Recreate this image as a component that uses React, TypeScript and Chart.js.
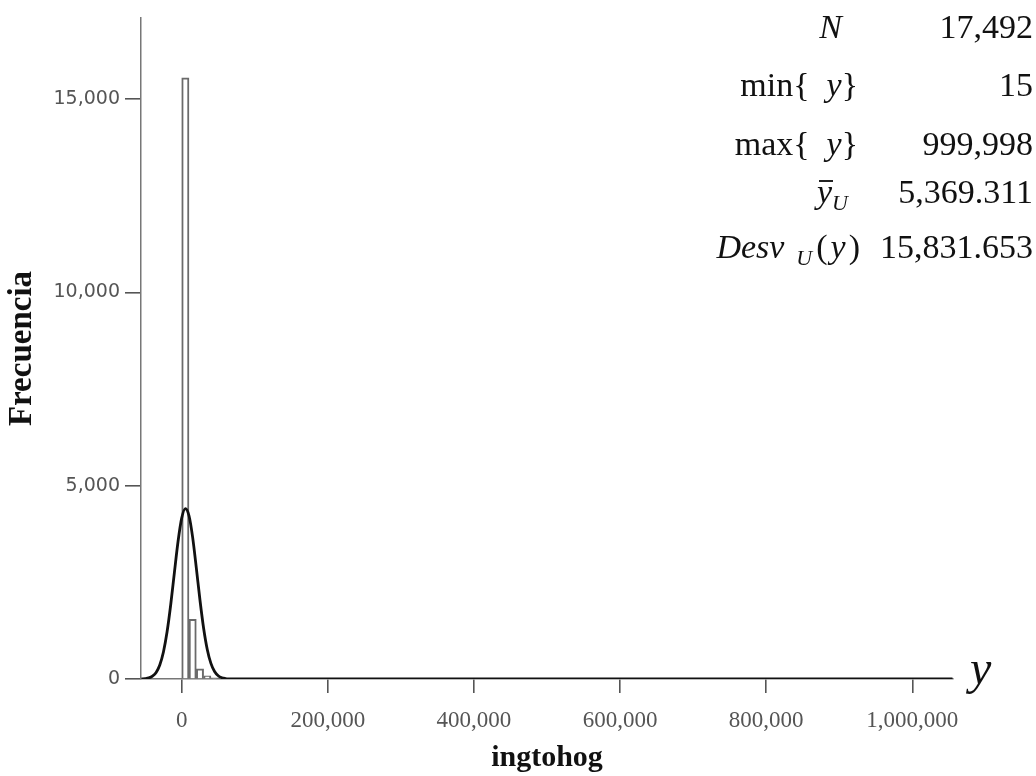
import React, { useEffect, useRef } from 'react';
import { Chart, registerables } from 'chart.js';

Chart.register(...registerables);

// Histogram bins (centre of each 10,000-wide bin) and their counts
const binCenters = [5000, 15000, 25000, 35000, 45000, 55000];
const binCounts = [15550, 1545, 260, 85, 30, 12];

// Fitted normal curve
const curveX = [
  -55000, -50000, -45000, -40000, -35000, -30000, -25000, -20000, -15000, -10000,
  -5000, 0, 5000, 10000, 15000, 20000, 25000, 30000, 35000, 40000,
  45000, 50000, 55000, 60000, 65000, 70000, 1055000,
];
const curveY = [
  3, 10, 28, 73, 171, 364, 700, 1221, 1927, 2752,
  3557, 4162, 4407, 4223, 3663, 2876, 2044, 1314, 765, 403,
  192, 83, 32, 12, 4, 1, 0,
];

const xTickValues = [0, 200000, 400000, 600000, 800000, 1000000];
const yTickValues = [0, 5000, 10000, 15000];
const xRange = [-55700, 1055700];
const yRange = [0, 17100];

const xTitle = 'ingtohog';
const yTitle = 'Frecuencia';
const statValues = ['17,492', '15', '999,998', '5,369.311', '15,831.653'];

const fmt = (v: number) => Number(v).toLocaleString('en-US');

const SERIF = '"Liberation Serif", "Times New Roman", serif';

export default function App() {
  const canvasRef = useRef<HTMLCanvasElement | null>(null);

  useEffect(() => {
    const canvas = canvasRef.current;
    if (!canvas) return;
    const chart = new Chart(canvas, {
      type: 'bar',
      data: {
        datasets: [
          {
            type: 'line',
            data: curveX.map((x, i) => ({ x, y: curveY[i] })),
            borderColor: '#111',
            borderWidth: 2.8,
            pointRadius: 0,
            cubicInterpolationMode: 'monotone',
            fill: false,
            order: 0,
          } as any,
          {
            type: 'bar',
            data: binCenters.map((x, i) => ({ x, y: binCounts[i] })),
            backgroundColor: '#ffffff',
            borderColor: '#6a6a6a',
            borderWidth: 2,
            barPercentage: 1,
            categoryPercentage: 1,
            grouped: false,
            order: 1,
          } as any,
        ],
      },
      options: {
        animation: false,
        responsive: true,
        maintainAspectRatio: false,
        layout: { padding: { left: 0, right: 83, top: 18, bottom: 0 } },
        plugins: { legend: { display: false }, tooltip: { enabled: false } },
        scales: {
          x: {
            type: 'linear',
            min: xRange[0],
            max: xRange[1],
            offset: false,
            grid: {
              display: true,
              offset: false,
              drawOnChartArea: false,
              drawTicks: true,
              tickLength: 14,
              color: '#555',
              lineWidth: 1.6,
            },
            border: { display: true, color: '#777', width: 1.5 },
            ticks: {
              color: '#555',
              font: { family: SERIF, size: 23 },
              padding: 14,
              maxRotation: 0,
              autoSkip: false,
              callback: (v: any) => fmt(v),
            },
            afterBuildTicks: (s: any) => {
              s.ticks = xTickValues.map((v) => ({ value: v }));
            },
            afterFit: (s: any) => {
              s.height = 97;
            },
            title: {
              display: true,
              text: xTitle,
              color: '#111',
              font: { family: SERIF, size: 30, weight: 'bold' },
              padding: { top: 0, bottom: 0 },
            },
          },
          y: {
            type: 'linear',
            min: yRange[0],
            max: yRange[1],
            grid: {
              display: true,
              drawOnChartArea: false,
              drawTicks: true,
              tickLength: 16,
              color: '#555',
              lineWidth: 1.6,
            },
            border: { display: true, color: '#777', width: 1.5 },
            ticks: {
              color: '#555',
              font: { family: '"DejaVu Sans", sans-serif', size: 19 },
              padding: 5,
              autoSkip: false,
              callback: (v: any) => fmt(v),
            },
            afterBuildTicks: (s: any) => {
              s.ticks = yTickValues.map((v) => ({ value: v }));
            },
            afterFit: (s: any) => {
              s.width = 141;
            },
            title: {
              display: true,
              text: yTitle,
              color: '#111',
              font: { family: SERIF, size: 33, weight: 'bold' },
              padding: { top: 3, bottom: 0 },
            },
          },
        },
      },
    });
    return () => chart.destroy();
  }, []);

  const rowCenters = [27, 85, 144, 192, 247];
  const L = 44;
  const txt: React.CSSProperties = {
    position: 'absolute',
    fontFamily: SERIF,
    fontSize: 34,
    lineHeight: `${L}px`,
    height: L,
    color: '#111',
    whiteSpace: 'nowrap',
  };
  const it: React.CSSProperties = { fontStyle: 'italic' };
  const sub: React.CSSProperties = { fontStyle: 'italic', fontSize: 22, verticalAlign: '-0.3em' };

  const labels: Array<{ right: number; node: React.ReactNode }> = [
    { right: 842, node: <span style={it}>N</span> },
    {
      right: 858,
      node: (
        <span>
          min{'{'}&nbsp;&nbsp;<span style={it}>y</span>
          {'}'}
        </span>
      ),
    },
    {
      right: 858,
      node: (
        <span>
          max{'{'}&nbsp;&nbsp;<span style={it}>y</span>
          {'}'}
        </span>
      ),
    },
    {
      right: 848,
      node: (
        <span>
          <span style={{ ...it, position: 'relative' }}>
            y
            <span
              style={{
                position: 'absolute',
                left: '0.06em',
                right: '-0.04em',
                top: '0.2em',
                borderTop: '2px solid #222',
              }}
            />
          </span>
          <span style={sub}>U</span>
        </span>
      ),
    },
    {
      right: 860,
      node: (
        <span>
          <span style={it}>Desv</span>
          <span style={{ ...sub, marginLeft: 12, marginRight: 4 }}>U</span>(
          <span style={{ ...it, margin: '0 3px' }}>y</span>)
        </span>
      ),
    },
  ];

  return (
    <div
      style={{
        position: 'fixed',
        left: 0,
        top: 0,
        width: 1036,
        height: 776,
        background: '#ffffff',
        overflow: 'hidden',
      }}
    >
      <canvas ref={canvasRef} style={{ position: 'absolute', left: 0, top: 0 }} />
      {labels.map((l, i) => (
        <div key={'l' + i} style={{ ...txt, right: 1036 - l.right, top: rowCenters[i] - L / 2 }}>
          {l.node}
        </div>
      ))}
      {statValues.map((v, i) => (
        <div key={'v' + i} style={{ ...txt, right: 3, top: rowCenters[i] - L / 2 }}>
          {v}
        </div>
      ))}
      <div
        style={{
          position: 'absolute',
          left: 970,
          top: 644,
          fontFamily: SERIF,
          fontStyle: 'italic',
          fontSize: 48,
          lineHeight: '48px',
          color: '#111',
        }}
      >
        y
      </div>
    </div>
  );
}
